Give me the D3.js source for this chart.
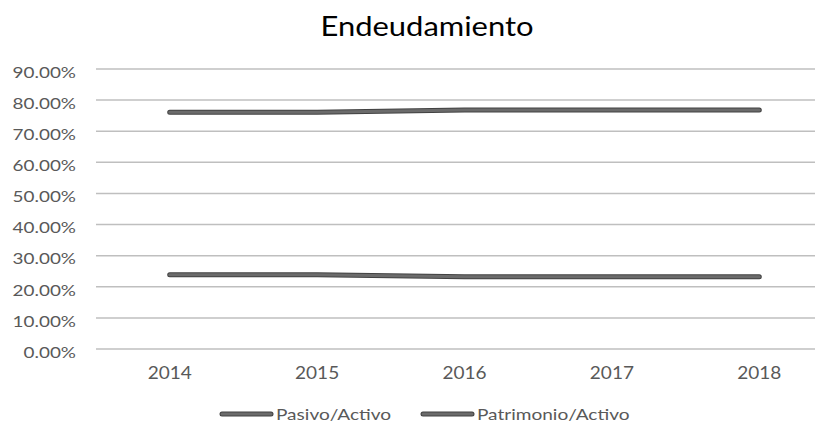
<!DOCTYPE html>
<html>
<head>
<meta charset="utf-8">
<script src="https://cdn.jsdelivr.net/npm/d3@7"></script>
<style>
  body { margin: 0; background: #fff; }
  text { font-family: Lato, "Open Sans", sans-serif; fill: #595959; }
</style>
</head>
<body>
<div id="chart"></div>
<script>
var years = ["2014", "2015", "2016", "2017", "2018"];
var pasivoActivo = [0.761, 0.761, 0.768, 0.768, 0.768];
var patrimonioActivo = [0.239, 0.239, 0.232, 0.232, 0.232];
var yTicks = [0, 0.1, 0.2, 0.3, 0.4, 0.5, 0.6, 0.7, 0.8, 0.9];
var seriesNames = ["Pasivo/Activo", "Patrimonio/Activo"];

var width = 815, height = 423;
var margin = {top: 69, right: -18, bottom: 74, left: 96};

// the source picture is stretched sideways, so text gets a horizontal scale
var stretch = 1.19;

var svg = d3.select('#chart')
  .append('svg')
    .attr('width', width)
    .attr('height', height);

var x = d3.scaleBand()
  .domain(years)
  .range([margin.left, width - margin.right]);

var y = d3.scaleLinear()
  .domain([0, 0.9])
  .range([height - margin.bottom, margin.top]);

// title
svg.append('text')
  .attr('transform', 'translate(427,36) scale(' + stretch + ',1)')
  .attr('text-anchor', 'middle')
  .style('font-size', '26px')
  .style('fill', '#000')
  .text('Endeudamiento');

// gridlines
svg.append('g')
  .selectAll('line')
  .data(yTicks)
  .enter().append('line')
    .attr('x1', margin.left)
    .attr('x2', width)
    .attr('y1', function(d) { return y(d); })
    .attr('y2', function(d) { return y(d); })
    .attr('stroke', '#bfbfbf')
    .attr('stroke-width', 1.5);

// y axis
var ySx = 1.26;
var yAxis = svg.append('g')
  .attr('transform', 'translate(' + margin.left + ',0)')
  .call(d3.axisLeft(y).tickValues(yTicks).tickFormat(d3.format('.2%')).tickSize(0));
yAxis.select('.domain').remove();
yAxis.selectAll('text')
  .attr('x', -20 / ySx)
  .attr('dy', '0.55em')
  .attr('transform', 'scale(' + ySx + ',1)')
  .style('font-size', '15px')
  .style('font-family', 'Lato, sans-serif')
  .attr('fill', '#595959');

// x axis
var xAxis = svg.append('g')
  .attr('transform', 'translate(0,' + (height - margin.bottom) + ')')
  .call(d3.axisBottom(x).tickSize(0).tickPadding(18));
xAxis.select('.domain').remove();
xAxis.selectAll('text')
  .attr('transform', 'scale(1.12,1)')
  .style('font-size', '17px')
  .style('font-family', 'Lato, sans-serif')
  .attr('fill', '#595959');

var line = d3.line()
  .x(function(d, i) { return x(years[i]) + x.bandwidth() / 2; })
  .y(function(d) { return y(d); });

[pasivoActivo, patrimonioActivo].forEach(function(s) {
  svg.append('path')
    .datum(s)
    .attr('fill', 'none')
    .attr('stroke', '#424242')
    .attr('stroke-width', 5)
    .attr('stroke-linecap', 'round')
    .attr('d', line);
  svg.append('path')
    .datum(s)
    .attr('fill', 'none')
    .attr('stroke', '#6b6b6b')
    .attr('stroke-width', 3)
    .attr('stroke-linecap', 'round')
    .attr('d', line);
});

// legend
var legendX = [222, 423];
var legend = svg.append('g')
  .selectAll('g')
  .data(seriesNames)
  .enter().append('g')
    .attr('transform', function(d, i) { return 'translate(' + legendX[i] + ',414)'; });

legend.append('line')
  .attr('x1', 0).attr('x2', 49)
  .attr('stroke', '#424242').attr('stroke-width', 5).attr('stroke-linecap', 'round');
legend.append('line')
  .attr('x1', 0).attr('x2', 49)
  .attr('stroke', '#6b6b6b').attr('stroke-width', 3).attr('stroke-linecap', 'round');
legend.append('text')
  .attr('transform', 'translate(54,0) scale(' + stretch + ',1)')
  .attr('dy', '0.35em')
  .style('font-size', '16px')
  .text(function(d) { return d; });
</script>
</body>
</html>
